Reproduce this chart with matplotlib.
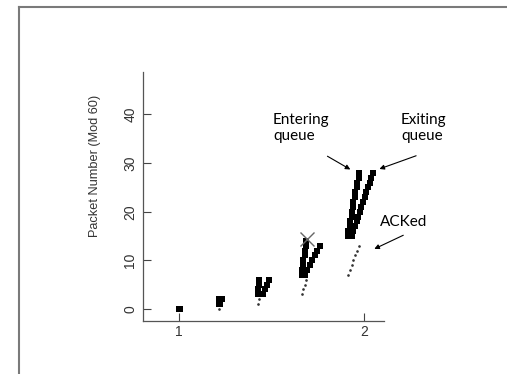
import matplotlib
matplotlib.use("Agg")
import matplotlib.pyplot as plt
from matplotlib.lines import Line2D

# packets entering the queue (time in s, packet number mod 60)
enter_t = [1.000, 1.216, 1.216, 1.427, 1.427, 1.432, 1.432,
           1.665, 1.665, 1.673, 1.673, 1.681, 1.681, 1.689, 1.689,
           1.915, 1.915, 1.924, 1.924, 1.934, 1.934, 1.943, 1.943,
           1.953, 1.953, 1.962, 1.962, 1.973, 1.973]
enter_p = [0, 1, 2, 3, 4, 5, 6,
           7, 8, 9, 10, 11, 12, 13, 14,
           15, 16, 17, 18, 19, 20, 21, 22, 23, 24, 25, 26, 27, 28]

# packets leaving the queue
exit_t = [1.003, 1.222, 1.232, 1.454, 1.465, 1.476, 1.486,
          1.681, 1.695, 1.708, 1.722, 1.735, 1.749, 1.762,
          1.935, 1.944, 1.952, 1.961, 1.970, 1.978, 1.987,
          1.996, 2.005, 2.013, 2.022, 2.031, 2.039, 2.048]
exit_p = [0, 1, 2, 3, 4, 5, 6,
          7, 8, 9, 10, 11, 12, 13,
          15, 16, 17, 18, 19, 20, 21, 22, 23, 24, 25, 26, 27, 28]

# ACKs received
ack_t = [1.216, 1.427, 1.432, 1.665, 1.673, 1.681, 1.689,
         1.915, 1.924, 1.934, 1.943, 1.953, 1.962, 1.973]
ack_p = [0, 1, 2, 3, 4, 5, 6, 7, 8, 9, 10, 11, 12, 13]

# dropped packet
drop_t = [1.692]
drop_p = [14.4]

xticks = [1, 2]
yticks = [0, 10, 20, 30, 40]

fig = plt.figure(figsize=(5.07, 3.74), dpi=100)
ax = fig.add_axes([0.282, 0.142, 0.475, 0.665])

ax.plot(enter_t, enter_p, 's', color='black', markersize=4.2, markeredgewidth=0)
ax.plot(exit_t, exit_p, 's', color='black', markersize=4.2, markeredgewidth=0)
ax.plot(ack_t, ack_p, '.', color='#333333', markersize=1.8)
ax.plot(drop_t, drop_p, 'x', color='#666666', markersize=10, markeredgewidth=1.0,
        zorder=4)

ax.set_xlim(0.805, 2.108)
ax.set_ylim(-2.46, 48.7)
ax.set_xticks(xticks)
ax.set_yticks(yticks)
for s in ['top', 'right']:
    ax.spines[s].set_visible(False)
for s in ['left', 'bottom']:
    ax.spines[s].set_color('#555555')
    ax.spines[s].set_linewidth(0.9)
ax.tick_params(direction='in', length=6, width=0.8, color='#444444',
               labelsize=10, labelcolor='#333333')
ax.tick_params(axis='x', pad=3)
ax.tick_params(axis='y', pad=4)
for lab in ax.get_yticklabels():
    lab.set_rotation(90)
    lab.set_va('center')
for lab in ax.get_xticklabels() + ax.get_yticklabels():
    lab.set_family('Liberation Sans')

ax.set_ylabel('Packet Number (Mod 60)', fontsize=9.2, family='Liberation Sans',
              color='#333333')
ax.yaxis.set_label_coords(-0.174, 0.622)

afont = dict(fontsize=11, family='Lato', color='black', linespacing=1.2)
aprops = dict(arrowstyle='-|>', color='black', lw=0.8, mutation_scale=7)
ax.annotate('', xy=(1.940, 28.4), xytext=(1.790, 31.7),
            arrowprops=aprops)
ax.annotate('Entering\nqueue', xy=(273 / 507, 1 - 113 / 374), xycoords='figure fraction',
            ha='left', va='top', **afont)
ax.annotate('', xy=(2.070, 28.6), xytext=(2.297, 31.7), arrowprops=aprops)
ax.annotate('Exiting\nqueue', xy=(401 / 507, 1 - 113 / 374), xycoords='figure fraction',
            ha='left', va='top', **afont)
ax.annotate('', xy=(2.043, 12.1), xytext=(2.227, 15.4), arrowprops=aprops)
ax.annotate('ACKed', xy=(380 / 507, 1 - 215 / 374), xycoords='figure fraction',
            ha='left', va='top', **afont)
for a in ax.texts:
    a.set_annotation_clip(False)

# grey frame of the slide
fig.add_artist(Line2D([18.5 / 507, 18.5 / 507], [0, 1 - 6.5 / 374],
                      transform=fig.transFigure, color='#7a7a7a', lw=1.5))
fig.add_artist(Line2D([18.5 / 507, 1], [1 - 6.5 / 374, 1 - 6.5 / 374],
                      transform=fig.transFigure, color='#7a7a7a', lw=1.5))

fig.savefig('out.png', dpi=100)
